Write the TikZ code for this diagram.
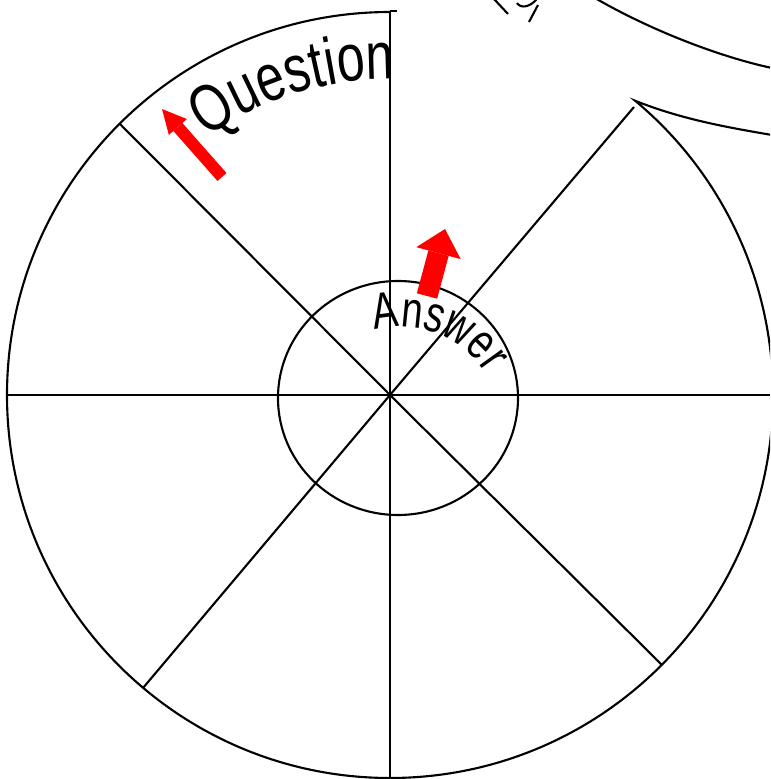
\documentclass[tikz,border=0pt]{standalone}
\usepackage{fontspec}
\newfontfamily\handfont[FakeStretch=0.75]{Liberation Sans}
\usetikzlibrary{decorations.text,arrows.meta}

\begin{document}
\begin{tikzpicture}[scale=1,line width=0.6pt]

\clip (-3.90,-3.84) rectangle (3.80,3.95);

\coordinate (O) at (0,0);

% Roue
\draw
(0,3.83)
arc[start angle=90, end angle=410.2, radius=3.83]
.. controls (2.91,2.76) and (3.35,2.68) ..
(3.82,2.60);

\draw
(0,3.84)
--
(0.07,3.84);

% Roue voisine
\draw
(2.05,3.97)
.. controls (2.60,3.65) and (3.30,3.38) ..
(3.82,3.27);

\draw
(1.04,3.96)
--
(1.18,3.81);

\draw
(1.48,3.90)
--
(1.39,3.73);

\draw
(1.27,3.92)
.. controls (1.31,3.86) and (1.40,3.88) ..
(1.47,3.96);

% Rayons
\draw (0,3.84) -- (0,-3.84);
\draw (-3.82,0) -- (3.80,0);
\draw (-2.70,2.71) -- (O) -- (2.72,-2.70);
\draw (2.44,2.88) -- (O) -- (-2.47,-2.93);

% Centre
\draw (0.08,-0.03) ellipse[x radius=1.20, y radius=1.17];

% Fleches
\draw[red, line width=0.12cm,
  -{Triangle[length=0.24cm, width=0.24cm, line width=0pt]}]
(-1.68,2.18)
--
(-2.28,2.86);

\draw[red, line width=0.21cm,
  -{Triangle[length=0.25cm, width=0.46cm, line width=0pt]}]
(0.37,0.99)
--
(0.55,1.66);

% Textes
\path[decorate, decoration={text along path, text align=left,
  text={|\handfont\fontsize{19pt}{21pt}\selectfont|Question}}]
(125.5:3.16)
arc[start angle=125.5, end angle=80, radius=3.16];

\path[decorate, decoration={text along path, text align=left,
  text={|\handfont\fontsize{14.5pt}{16pt}\selectfont|Answer}}]
(-0.15,0.65)
arc[start angle=105, end angle=10, radius=1.0];

\end{tikzpicture}
\end{document}
